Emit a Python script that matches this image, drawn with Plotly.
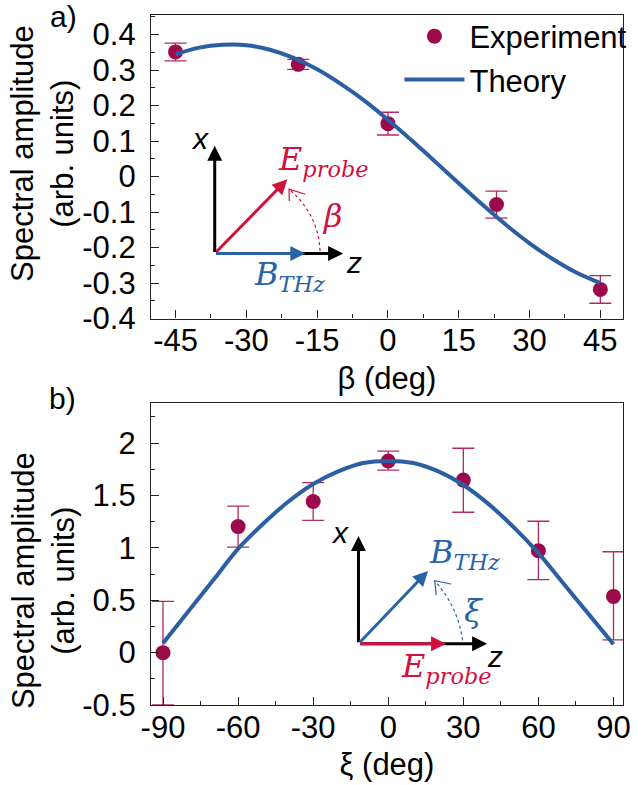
import plotly.graph_objects as go

# ---------------- data ----------------
# panel a)
beta_deg = [-45, -19, 0, 23, 45]
beta_amp = [0.351, 0.316, 0.149, -0.079, -0.318]
beta_err = [0.025, 0.014, 0.032, 0.038, 0.039]

beta_theory_deg = [-45, -40, -35, -30, -25, -20, -15, -10, -5, 0, 5, 10, 15, 20, 25, 30, 35, 40, 45]
beta_theory_amp = [0.344, 0.363, 0.371, 0.370, 0.357, 0.334, 0.302, 0.261, 0.214, 0.160,
                   0.102, 0.042, -0.019, -0.079, -0.136, -0.188, -0.233, -0.271, -0.300]

# panel b)
xi_deg = [-90, -60, -30, 0, 30, 60, 90]
xi_amp = [0.0, 1.203, 1.443, 1.83, 1.647, 0.972, 0.537]
xi_err_plus = [0.49, 0.195, 0.18, 0.093, 0.304, 0.282, 0.426]
xi_err_minus = [0.5, 0.195, 0.18, 0.087, 0.307, 0.275, 0.415]

xi_theory_deg = [-90, -80, -70, -60, -50, -40, -30, -20, -10, 0, 10, 20, 30, 40, 50, 60, 70, 80, 90]
xi_theory_amp = [0.09, 0.39, 0.69, 0.99, 1.23, 1.44, 1.61, 1.73, 1.81, 1.83,
                 1.81, 1.73, 1.60, 1.42, 1.20, 0.95, 0.66, 0.37, 0.08]

# tick labels
a_xticks = [-45, -30, -15, 0, 15, 30, 45]
a_xlabels = ["-45", "-30", "-15", "0", "15", "30", "45"]
a_yticks = [0.4, 0.3, 0.2, 0.1, 0, -0.1, -0.2, -0.3, -0.4]
a_ylabels = ["0.4", "0.3", "0.2", "0.1", "0", "-0.1", "-0.2", "-0.3", "-0.4"]
b_xticks = [-90, -60, -30, 0, 30, 60, 90]
b_xlabels = ["-90", "-60", "-30", "0", "30", "60", "90"]
b_yticks = [-0.5, 0, 0.5, 1, 1.5, 2]
b_ylabels = ["-0.5", "0", "0.5", "1", "1.5", "2"]

# ---------------- style ----------------
FONT = "Liberation Sans, Arial, sans-serif"
SERIF = "DejaVu Serif, Liberation Serif, serif"
MARKER = "#9C0A4B"
ERRC = "#B5285F"
LINE = "#2B5EA2"
RED = "#D2103C"
BLUE = "#2A62A8"

fig = go.Figure()

fig.add_trace(go.Scatter(
    x=beta_deg, y=beta_amp, mode="markers", name="Experiment",
    marker=dict(color=MARKER, size=15),
    error_y=dict(type="data", array=beta_err, color=ERRC, thickness=1.3, width=11),
    xaxis="x", yaxis="y"))
fig.add_trace(go.Scatter(
    x=beta_theory_deg, y=beta_theory_amp, mode="lines", name="Theory",
    line=dict(color=LINE, width=4, shape="spline"),
    xaxis="x", yaxis="y"))

fig.add_trace(go.Scatter(
    x=xi_deg, y=xi_amp, mode="markers", name="Experiment", showlegend=False,
    marker=dict(color=MARKER, size=15),
    error_y=dict(type="data", array=xi_err_plus, arrayminus=xi_err_minus,
                 color=ERRC, thickness=1.3, width=11),
    xaxis="x2", yaxis="y2"))
fig.add_trace(go.Scatter(
    x=xi_theory_deg, y=xi_theory_amp, mode="lines", name="Theory", showlegend=False,
    line=dict(color=LINE, width=4, shape="spline"),
    xaxis="x2", yaxis="y2"))

axis_common = dict(
    showline=True, linecolor="#222", linewidth=1.3, mirror=True,
    ticks="inside", ticklen=8, tickwidth=1.2, tickcolor="#222",
    showgrid=False, zeroline=False, tickmode="array",
    ticklabeloverflow="allow",
    tickfont=dict(family=FONT, size=31, color="black"),
)

fig.update_layout(
    width=638, height=785,
    margin=dict(l=151, r=6, t=15, b=80),
    paper_bgcolor="white", plot_bgcolor="white",
    font=dict(family=FONT, color="black"),
    xaxis=dict(axis_common, domain=[0, 1], anchor="y", range=[-50.2, 49.8],
               tickvals=a_xticks, ticktext=a_xlabels, ticklabelstandoff=-6,
               minor=dict(tickmode="linear", tick0=0, dtick=7.5, ticks="inside", ticklen=4, tickcolor="#222"),
               title=dict(text="β (deg)", font=dict(family=FONT, size=31), standoff=10)),
    yaxis=dict(axis_common, domain=[0.5601, 1], anchor="x", range=[-0.4, 0.455],
               tickvals=a_yticks, ticktext=a_ylabels, ticklabelstandoff=8,
               minor=dict(tickmode="linear", tick0=0, dtick=0.05, ticks="inside", ticklen=4, tickcolor="#222")),
    xaxis2=dict(axis_common, domain=[0, 1], anchor="y2", range=[-94.8, 93.8],
                tickvals=b_xticks, ticktext=b_xlabels, ticklabelstandoff=-5,
                minor=dict(tickmode="linear", tick0=0, dtick=15, ticks="inside", ticklen=4, tickcolor="#222"),
                title=dict(text="ξ (deg)", font=dict(family=FONT, size=31), standoff=8)),
    yaxis2=dict(axis_common, domain=[0, 0.4372], anchor="x2", range=[-0.5, 2.38],
                tickvals=b_yticks, ticktext=b_ylabels, ticklabelstandoff=8,
                minor=dict(tickmode="linear", tick0=0, dtick=0.25, ticks="inside", ticklen=4, tickcolor="#222")),
    legend=dict(x=1.02, y=1.008, xanchor="right", yanchor="top",
                bgcolor="rgba(0,0,0,0)", font=dict(family=FONT, size=31),
                tracegroupgap=0, itemwidth=60),
    showlegend=True,
)

ann = []
# y-axis titles and panel labels
ann.append(dict(text="Spectral amplitude<br>(arb. units)", xref="paper", yref="paper",
                x=-0.2287, y=0.7986, xanchor="center", yanchor="middle", textangle=-90,
                showarrow=False, font=dict(family=FONT, size=31)))
ann.append(dict(text="Spectral amplitude<br>(arb. units)", xref="paper", yref="paper",
                x=-0.2287, y=0.1797, xanchor="center", yanchor="middle", textangle=-90,
                showarrow=False, font=dict(family=FONT, size=31)))
ann.append(dict(text="a)", xref="paper", yref="paper", x=-0.185, y=0.998,
                xanchor="center", yanchor="middle", showarrow=False, font=dict(family=FONT, size=30)))
ann.append(dict(text="b)", xref="paper", yref="paper", x=-0.187, y=0.4449,
                xanchor="center", yanchor="middle", showarrow=False, font=dict(family=FONT, size=30)))


def arrow(xr, yr, tail, head, color, width=3, size=1.0, headstyle=2):
    return dict(xref=xr, yref=yr, axref=xr, ayref=yr, x=head[0], y=head[1],
                ax=tail[0], ay=tail[1], text="", showarrow=True,
                arrowhead=headstyle, arrowsize=size, arrowwidth=width, arrowcolor=color)


# ---- inset a) ----
o = (-36.7, -0.217)
ann.append(arrow("x", "y", o, (-36.7, 0.0868), "black"))
ann.append(arrow("x", "y", o, (-9.5, -0.217), "black"))
ann.append(arrow("x", "y", o, (-17.5, -0.217), BLUE))
ann.append(arrow("x", "y", o, (-21.3, -0.0074), RED))
ann.append(dict(xref="x", yref="y", x=-39.9, y=0.107, text="<i>x</i>", showarrow=False,
                font=dict(family=FONT, size=30)))
ann.append(dict(xref="x", yref="y", x=-7.2, y=-0.243, text="<i>z</i>", showarrow=False,
                font=dict(family=FONT, size=30)))
ann.append(dict(xref="x", yref="y", x=-13.7, y=0.044, text="<i>E</i><sub><i>probe</i></sub>",
                showarrow=False, font=dict(family=SERIF, size=32, color=RED)))
ann.append(dict(xref="x", yref="y", x=-20.9, y=-0.281, text="<i>B</i><sub><i>THz</i></sub>",
                showarrow=False, font=dict(family=SERIF, size=32, color=BLUE)))
ann.append(dict(xref="x", yref="y", x=-11.6, y=-0.111, text="<i>β</i>",
                showarrow=False, font=dict(family=SERIF, size=32, color=RED)))

# ---- inset b) ----
o2 = (-11.9, 0.085)
ann.append(arrow("x2", "y2", o2, (-11.9, 1.114), "black"))
ann.append(arrow("x2", "y2", o2, (39.5, 0.085), "black"))
ann.append(arrow("x2", "y2", o2, (23.1, 0.085), RED))
ann.append(arrow("x2", "y2", o2, (15.9, 0.78), BLUE))
ann.append(dict(xref="x2", yref="y2", x=-19.4, y=1.145, text="<i>x</i>", showarrow=False,
                font=dict(family=FONT, size=30)))
ann.append(dict(xref="x2", yref="y2", x=42.8, y=-0.035, text="<i>z</i>", showarrow=False,
                font=dict(family=FONT, size=30)))
ann.append(dict(xref="x2", yref="y2", x=30.5, y=0.94, text="<i>B</i><sub><i>THz</i></sub>",
                showarrow=False, font=dict(family=SERIF, size=32, color=BLUE)))
ann.append(dict(xref="x2", yref="y2", x=23.1, y=-0.15, text="<i>E</i><sub><i>probe</i></sub>",
                showarrow=False, font=dict(family=SERIF, size=32, color=RED)))
ann.append(dict(xref="x2", yref="y2", x=34.2, y=0.40, text="<i>ξ</i>",
                showarrow=False, font=dict(family=SERIF, size=32, color=BLUE)))

fig.update_layout(annotations=ann)

# dotted arcs (angle indicators) with open chevron heads
fig.add_shape(type="path", xref="x", yref="y",
              path="M -14.39,-0.210 Q -14.7,-0.107 -20.96,-0.0356",
              line=dict(color=RED, width=1.2, dash="dot"))
fig.add_shape(type="path", xref="x", yref="y",
              path="M -17.5,-0.0498 L -20.96,-0.0356 L -20.90,-0.0690",
              line=dict(color=RED, width=1.2))
fig.add_shape(type="path", xref="x2", yref="y2",
              path="M 29.66,0.117 Q 28.1,0.426 18.56,0.687",
              line=dict(color=BLUE, width=1.2, dash="dot"))
fig.add_shape(type="path", xref="x2", yref="y2",
              path="M 25.1,0.655 L 18.56,0.687 L 19.2,0.546",
              line=dict(color=BLUE, width=1.2))

fig.write_html("out.html", config={"displayModeBar": False},
               post_script="document.body.style.margin='0px';")
